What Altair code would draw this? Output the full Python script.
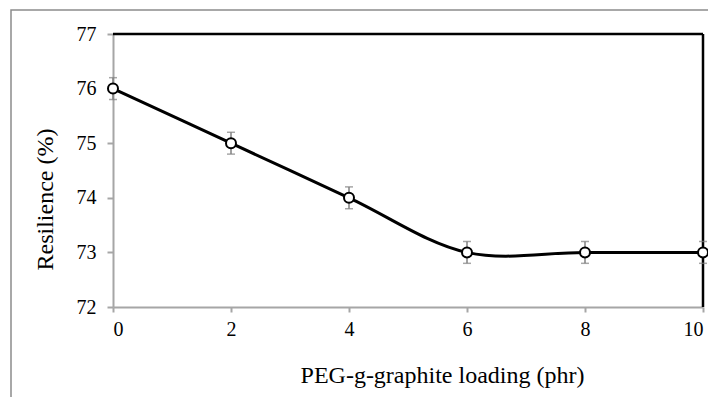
import altair as alt
import pandas as pd

loading = [0, 2, 4, 6, 8, 10]
resilience = [76, 75, 74, 73, 73, 73]
error = [0.2, 0.2, 0.2, 0.2, 0.2, 0.2]
x_ticks = [0, 2, 4, 6, 8, 10]
y_ticks = [72, 73, 74, 75, 76, 77]

df = pd.DataFrame({"x": loading, "y": resilience, "e": error})
df["lo"] = df["y"] - df["e"]
df["hi"] = df["y"] + df["e"]

W, H = 590, 273
FONT = "Liberation Serif"
GREY = "#a6a6a6"

xs = alt.Scale(domain=[0, 10], nice=False)
ys = alt.Scale(domain=[72, 77], nice=False)

common = dict(grid=False, domainColor=GREY, domainWidth=2, tickColor=GREY, tickWidth=2,
              labelFont=FONT, labelFontSize=20, labelColor="black",
              titleFont=FONT, titleFontSize=24, titleFontWeight="normal", titleColor="black")

x_axis = alt.Axis(values=x_ticks, format="d", title="PEG-g-graphite loading (phr)",
                  tickSize=5, labelPadding=7,
                  titleX=329, titleY=75, titleBaseline="alphabetic", titleAnchor="middle",
                  **common)
y_axis = alt.Axis(values=y_ticks, format="d", title="Resilience (%)",
                  tickSize=6, labelPadding=11,
                  titleX=-61, titleY=165, titleAngle=270, titleBaseline="alphabetic",
                  titleAnchor="middle", **common)

X = alt.X("x:Q", scale=xs, axis=x_axis)

one = pd.DataFrame({"a": [0]})

outer = alt.Chart(one).mark_rect(fill=None, stroke="#8c8c8c", strokeWidth=1.5).encode(
    x=alt.value(-102), x2=alt.value(700), y=alt.value(-24), y2=alt.value(600))

top_border = alt.Chart(one).mark_rule(color="black", strokeWidth=2.5).encode(
    x=alt.value(0), x2=alt.value(W), y=alt.value(0))
right_border = alt.Chart(one).mark_rule(color="black", strokeWidth=2.5).encode(
    x=alt.value(W), y=alt.value(0), y2=alt.value(H))

base = alt.Chart(df)

err_rule = base.mark_rule(color="#808080", strokeWidth=1.5).encode(
    x=X, y=alt.Y("lo:Q", scale=ys, axis=y_axis), y2="hi:Q")
cap_lo = base.mark_tick(color="#808080", thickness=1.5, size=8, orient="horizontal").encode(
    x=X, y=alt.Y("lo:Q", scale=ys, axis=y_axis))
cap_hi = base.mark_tick(color="#808080", thickness=1.5, size=8, orient="horizontal").encode(
    x=X, y=alt.Y("hi:Q", scale=ys, axis=y_axis))

line = base.mark_line(color="black", strokeWidth=3, interpolate="catmull-rom").encode(
    x=X, y=alt.Y("y:Q", scale=ys, axis=y_axis))
points = base.mark_point(shape="circle", filled=True, fill="white", stroke="black",
                         strokeWidth=2, size=100, opacity=1).encode(
    x=X, y=alt.Y("y:Q", scale=ys, axis=y_axis))

chart = alt.layer(outer, err_rule, top_border, right_border, cap_lo, cap_hi, line, points).properties(
    width=W, height=H,
    padding={"left": 105, "top": 26, "right": 5, "bottom": 90},
    autosize=alt.AutoSizeParams(type="none"),
).configure(
    background="white",
    style={"guide-label": {"font": FONT, "fontSize": 20, "fill": "black"}},
).configure_view(stroke=None).configure_axis(**common)

chart.save("out.html", embed_options={"renderer": "svg", "actions": False})
